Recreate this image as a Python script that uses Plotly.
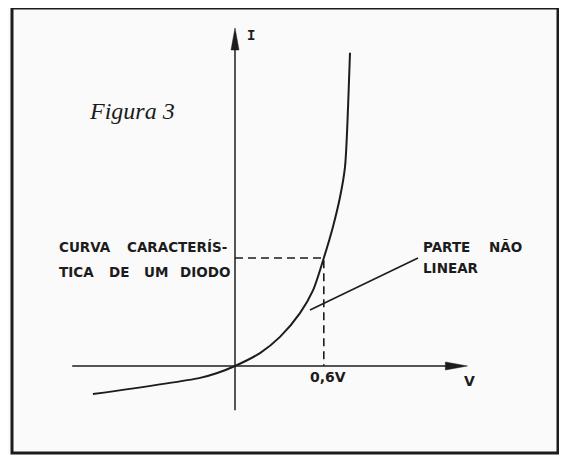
import plotly.graph_objects as go

# a pagina tem 8 px de margem no body; o desenho e deslocado para compensar
OFF = 8
W, H = 567 - OFF, 455 - OFF

# curva do diodo (V em volts, I em unidades arbitrarias; 1 = nivel da linha tracejada)
tensao = [-0.96, -0.236, -0.12, 0.0, 0.169, 0.304, 0.439, 0.527, 0.6, 0.662, 0.709, 0.743, 0.764, 0.777]
corrente = [-0.26, -0.11, -0.065, 0.0, 0.12, 0.27, 0.49, 0.70, 1.0, 1.29, 1.56, 1.84, 2.40, 2.90]

v_joelho = 0.6
i_joelho = 1.0

eixo_v = [-1.10, 1.57]
eixo_i = [-0.41, 3.13]

# escala do desenho: pixels por unidade e posicao da origem (em pixels da tela)
SX, SY = 148.0, 108.0
X0, Y0 = 235.0, 366.0

INK = '#1c1c1c'
FONT = 'DejaVu Sans'


def px(x):
    return (x - OFF) / W


def py(y):
    return 1 - (y - OFF) / H


fig = go.Figure()

fig.add_trace(go.Scatter(
    x=tensao, y=corrente, mode='lines',
    line=dict(color=INK, width=2, shape='spline', smoothing=0.8),
    hoverinfo='skip', showlegend=False
))

# tracejado ate o ponto de 0,6 V
fig.add_trace(go.Scatter(
    x=[0, v_joelho, v_joelho], y=[i_joelho, i_joelho, 0], mode='lines',
    line=dict(color=INK, width=1.6, dash='8px,5px'),
    hoverinfo='skip', showlegend=False
))

shapes = []
# eixos
shapes.append(dict(type='line', xref='x', yref='y', x0=eixo_v[0], x1=eixo_v[1] - 0.1, y0=0, y1=0,
                   line=dict(color=INK, width=1.5)))
shapes.append(dict(type='line', xref='x', yref='y', x0=0, x1=0, y0=eixo_i[0], y1=eixo_i[1] - 0.1,
                   line=dict(color=INK, width=1.5)))

# pontas de seta (22 px de comprimento, 8 px de largura)
lv, hv = 22 / SX, 4 / SY
shapes.append(dict(type='path', xref='x', yref='y',
                   path=f'M {eixo_v[1]},0 L {eixo_v[1] - lv},{hv} L {eixo_v[1] - lv},{-hv} Z',
                   fillcolor=INK, line=dict(color=INK, width=0.5)))
li, hi = 22 / SY, 4 / SX
shapes.append(dict(type='path', xref='x', yref='y',
                   path=f'M 0,{eixo_i[1]} L {hi},{eixo_i[1] - li} L {-hi},{eixo_i[1] - li} Z',
                   fillcolor=INK, line=dict(color=INK, width=0.5)))

# linha indicadora "parte nao linear"
shapes.append(dict(type='line', xref='paper', yref='paper', x0=px(310), y0=py(310), x1=px(418), y1=py(258),
                   line=dict(color=INK, width=1.6)))

# moldura
shapes.append(dict(type='rect', xref='paper', yref='paper', x0=px(12), y0=py(453), x1=px(558), y1=py(8),
                   line=dict(color=INK, width=3)))

annotations = []


def texto(t, x, y, size=13.5, family=FONT, anchor='left', style='normal', weight='bold'):
    annotations.append(dict(text=t, x=px(x), y=py(y), xref='paper', yref='paper',
                            xanchor=anchor, yanchor='middle', showarrow=False,
                            font=dict(family=family, size=size, color=INK, style=style, weight=weight)))


texto('Figura 3', 87, 111, size=24, family='Liberation Serif', style='italic', weight='normal')
texto('I', 251, 36, size=14, family='Liberation Mono', anchor='center')
texto('V', 469, 381, size=14, anchor='center')
texto('0,6V', 328, 377, size=14, anchor='center')

for palavra, x in [('CURVA', 57), ('CARACTERÍS-', 125)]:
    texto(palavra, x, 247)
for palavra, x in [('TICA', 57), ('DE', 107), ('UM', 142), ('DIODO', 178)]:
    texto(palavra, x, 272)
for palavra, x in [('PARTE', 421), ('NÃO', 487)]:
    texto(palavra, x, 247)
texto('LINEAR', 421, 268)

fig.update_layout(
    width=W, height=H, autosize=False,
    margin=dict(l=0, r=0, t=0, b=0),
    paper_bgcolor='#fafafa', plot_bgcolor='#fafafa',
    xaxis=dict(range=[(OFF - X0) / SX, (OFF + W - X0) / SX], visible=False, fixedrange=True),
    yaxis=dict(range=[(Y0 - OFF - H) / SY, (Y0 - OFF) / SY], visible=False, fixedrange=True),
    shapes=shapes, annotations=annotations
)

fig.write_html("out.html")
